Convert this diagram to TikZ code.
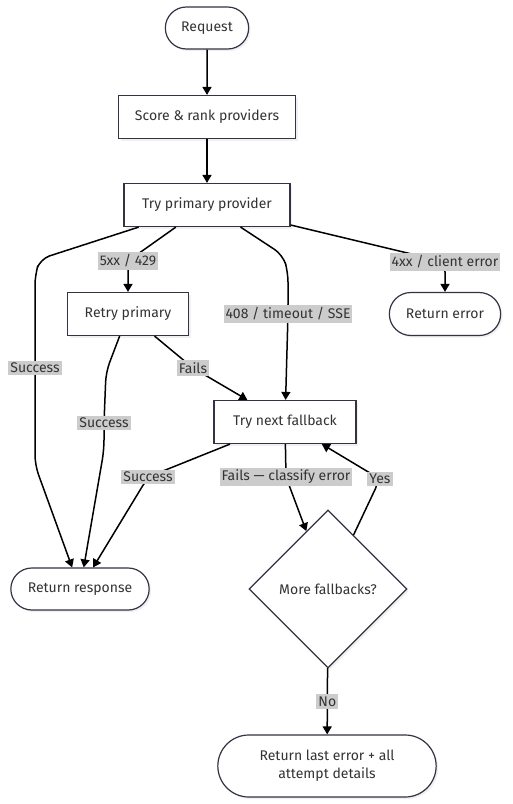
\documentclass[tikz,border=0pt]{standalone}
\usepackage{fontspec}
\setmainfont{Fira Sans}
\usepackage{tikz}
\usetikzlibrary{arrows.meta,shapes.geometric,shapes.misc,shadows}

\definecolor{nodeline}{HTML}{333344}
\definecolor{nodetext}{HTML}{333333}

\tikzset{
	box/.style={draw=nodeline, line width=1.2pt, fill=white, text=nodetext, minimum height=43pt,
		font=\fontsize{14}{18}\selectfont,
		drop shadow={shadow xshift=2pt, shadow yshift=-2pt, opacity=0.12}},
	term/.style={box, rounded rectangle},
	choice/.style={box, diamond, aspect=1, minimum size=158pt, inner sep=0pt},
	lbl/.style={sharp corners, fill=gray!40, text=nodetext, font=\fontsize{14}{18}\selectfont,
		inner xsep=2pt, inner ysep=2.5pt},
	flow/.style={-{Triangle[length=8pt,width=9pt]}, line width=1.5pt, rounded corners=10pt},
}

\begin{document}
\begin{tikzpicture}[x=1pt, y=-1pt]
\useasboundingbox (0,0) rectangle (512,804);

\node[term, minimum width=90pt, minimum height=42pt] (req) at (207,28) {Request};
\node[box, minimum width=177pt] (score) at (207,117) {Score \& rank providers};
\node[box, minimum width=166pt] (tp) at (207,205) {Try primary provider};
\node[box, minimum width=121pt] (retry) at (128,314) {Retry primary};
\node[term, minimum width=118pt] (err) at (445,314) {Return error};
\node[box, minimum width=142pt] (fb) at (285,422) {Try next fallback};
\node[term, minimum width=145pt, minimum height=42pt] (resp) at (80,589) {Return response};
\node[choice] (more) at (328,589) {More fallbacks?};
\node[term, minimum width=225pt, minimum height=62pt, align=center] (last) at (327,766)
	{Return last error + all\\attempt details};

\path[flow]
(req) edge (score)
(score) edge (tp)
(more) edge node [lbl] {No} (last);

\draw[flow] (tp) -- (128,261) node [lbl] {5xx / 429} -- (retry);
\draw[flow] (tp) -- (445,262) node [lbl] {4xx / client error} -- (err);
\draw[flow] (tp) -- (283,255) -- (288,272) -- (288,314) node [lbl] {408 / timeout / SSE} -- (fb);
\draw[flow] (tp) -- (40,259) -- (35,275) -- (35,368) node [lbl] {Success} -- (35,465) -- (resp);
\draw[flow] (retry) -- (106,372) -- (104,423) node [lbl] {Success} -- (104,450) -- (resp);
\draw[flow] (retry) -- (193,368) node [lbl] {Fails} -- (fb);
\draw[flow] (fb) -- (148,477) node [lbl] {Success} -- (resp);
\draw[flow] (fb) -- (286,477) node [lbl] {Fails — classify error} -- (more);
\draw[flow] (more) -- (380,479) node [lbl] {Yes} -- (fb);
\end{tikzpicture}
\end{document}
